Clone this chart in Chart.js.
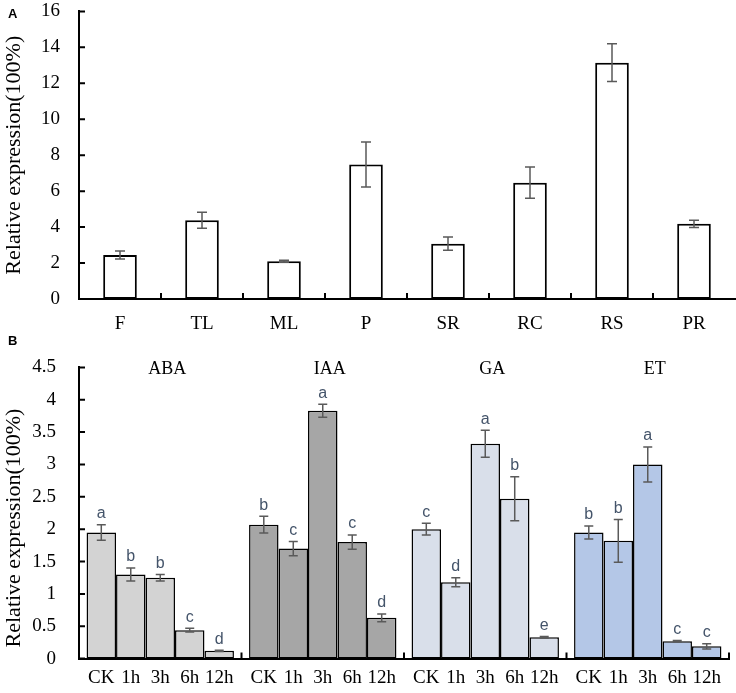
<!DOCTYPE html>
<html>
<head>
<meta charset="utf-8">
<script src="https://cdn.jsdelivr.net/npm/chart.js@4.4.0/dist/chart.umd.min.js"></script>
<style>
  body { margin: 0; background: #fff; }
  #wrap { position: relative; width: 736px; height: 693px; overflow: hidden; }
  canvas { position: absolute; left: 0; }
  #chartA { top: -19px; }
  #chartB { top: 333px; }
  .tag { position: absolute; left: 8px; font: bold 13px "Liberation Sans", Arial, sans-serif; }
</style>
</head>
<body>
<div id="wrap">
  <canvas id="chartA" width="736" height="359"></canvas>
  <canvas id="chartB" width="736" height="360"></canvas>
  <div class="tag" style="top:6px">A</div>
  <div class="tag" style="top:333px">B</div>
</div>
<script>
// panel A - tissues
var tissues = ['F', 'TL', 'ML', 'P', 'SR', 'RC', 'RS', 'PR'];
var tissueMean = [2.45, 4.38, 2.10, 7.48, 3.08, 6.47, 13.15, 4.18];
var tissueErr = [0.22, 0.45, 0.05, 1.25, 0.37, 0.87, 1.05, 0.20];

// panel B - hormone treatments
var hormones = ['ABA', 'IAA', 'GA', 'ET'];
var times = ['CK', '1h', '3h', '6h', '12h'];
var abaMean = [1.95, 1.30, 1.25, 0.44, 0.12];
var iaaMean = [2.07, 1.70, 3.83, 1.80, 0.63];
var gaMean = [2.00, 1.18, 3.32, 2.47, 0.33];
var etMean = [1.95, 1.82, 3.00, 0.27, 0.19];
var abaErr = [0.12, 0.10, 0.05, 0.03, 0.01];
var iaaErr = [0.13, 0.11, 0.10, 0.11, 0.06];
var gaErr = [0.09, 0.07, 0.21, 0.34, 0.01];
var etErr = [0.10, 0.33, 0.27, 0.01, 0.04];
var abaLetters = ['a', 'b', 'b', 'c', 'd'];
var iaaLetters = ['b', 'c', 'a', 'c', 'd'];
var gaLetters = ['c', 'd', 'a', 'b', 'e'];
var etLetters = ['b', 'b', 'a', 'c', 'c'];
var hormoneColors = ['#d3d3d3', '#a6a6a6', '#d9dfea', '#b4c7e7'];

var means = [abaMean, iaaMean, gaMean, etMean];
var errs = [abaErr, iaaErr, gaErr, etErr];
var letters = [abaLetters, iaaLetters, gaLetters, etLetters];

var serif = '"Liberation Serif", "Times New Roman", serif';
var yTitle = 'Relative expression(100%)';

function errorBar(ctx, x, top, bot, half) {
    ctx.beginPath();
    ctx.moveTo(x, top); ctx.lineTo(x, bot);
    ctx.moveTo(x - half, top); ctx.lineTo(x + half, top);
    ctx.moveTo(x - half, bot); ctx.lineTo(x + half, bot);
    ctx.stroke();
}

function inwardTicks(chart, boundaries) {
    var ctx = chart.ctx, xs = chart.scales.x, ys = chart.scales.y;
    ctx.save();
    ctx.strokeStyle = '#000';
    ctx.lineWidth = 2;
    ctx.beginPath();
    ys.ticks.forEach(function(t) {
        var py = ys.getPixelForValue(t.value);
        ctx.moveTo(xs.left, py); ctx.lineTo(xs.left + 6, py);
    });
    var w = (xs.right - xs.left) / chart.data.labels.length;
    for (var i = 1; i <= boundaries; i++) {
        var px = xs.left + w * i;
        ctx.moveTo(px, ys.bottom); ctx.lineTo(px, ys.bottom - 6);
    }
    ctx.stroke();
    ctx.restore();
}

var panelA = {
    id: 'panelA',
    afterDatasetsDraw: function(chart) {
        var ctx = chart.ctx, ys = chart.scales.y;
        ctx.save();
        ctx.strokeStyle = '#5a5a5a';
        ctx.lineWidth = 1.5;
        chart.getDatasetMeta(0).data.forEach(function(bar, i) {
            errorBar(ctx, bar.x, ys.getPixelForValue(tissueMean[i] + tissueErr[i]),
                ys.getPixelForValue(tissueMean[i] - tissueErr[i]), 5);
        });
        ctx.restore();
    },
    afterDraw: function(chart) { inwardTicks(chart, 7); }
};

var panelB = {
    id: 'panelB',
    afterDatasetsDraw: function(chart) {
        var ctx = chart.ctx, ys = chart.scales.y, xs = chart.scales.x;
        ctx.save();
        ctx.textAlign = 'center';
        chart.data.datasets.forEach(function(ds, t) {
            chart.getDatasetMeta(t).data.forEach(function(bar, g) {
                var v = means[g][t], e = errs[g][t];
                var top = ys.getPixelForValue(v + e);
                ctx.strokeStyle = '#5a5a5a';
                ctx.lineWidth = 1.5;
                errorBar(ctx, bar.x, top, ys.getPixelForValue(v - e), 4.5);
                ctx.fillStyle = '#44546a';
                ctx.font = '16px "Liberation Sans", Arial, sans-serif';
                ctx.textBaseline = 'bottom';
                ctx.fillText(letters[g][t], bar.x, top - 3);
                ctx.fillStyle = '#000';
                ctx.font = '19px ' + serif;
                ctx.textBaseline = 'middle';
                ctx.fillText(times[t], bar.x, ys.bottom + 19);
            });
        });
        ctx.fillStyle = '#000';
        ctx.font = '18px ' + serif;
        ctx.textBaseline = 'middle';
        hormones.forEach(function(h, g) {
            ctx.fillText(h, xs.getPixelForValue(g) + 7, ys.top + 2);
        });
        // y title sits a little below the axis centre in the original
        ctx.translate(14, (ys.top + ys.bottom) / 2 + 15);
        ctx.rotate(-Math.PI / 2);
        ctx.font = '22px ' + serif;
        ctx.fillText(yTitle, 0, 0);
        ctx.restore();
    },
    afterDraw: function(chart) { inwardTicks(chart, 4); }
};

function plainNumber(v) { return String(v); }

new Chart(document.getElementById('chartA'), {
    type: 'bar',
    data: {
        labels: tissues,
        datasets: [{
            data: tissueMean,
            backgroundColor: '#ffffff',
            borderColor: '#000000',
            borderWidth: 2,
            borderSkipped: false,
            barPercentage: 0.41,
            categoryPercentage: 1
        }]
    },
    options: {
        responsive: false,
        animation: false,
        devicePixelRatio: 1,
        layout: { padding: { top: 11, right: 1, left: 0, bottom: 0 } },
        plugins: { legend: { display: false }, tooltip: { enabled: false } },
        scales: {
            x: {
                grid: { display: false, drawTicks: false },
                border: { color: '#000', width: 2 },
                ticks: { color: '#000', padding: 14, font: { family: serif, size: 19 } },
                afterFit: function(s) { s.height = 41; }
            },
            y: {
                min: 0,
                max: 16,
                grid: { display: false, drawTicks: false },
                border: { color: '#000', width: 2 },
                ticks: { stepSize: 2, color: '#000', padding: 19, font: { family: serif, size: 19 }, callback: plainNumber },
                title: {
                    display: true,
                    text: yTitle,
                    color: '#000',
                    font: { family: serif, size: 22 },
                    padding: { top: 1, bottom: 0 }
                },
                afterFit: function(s) { s.width = 79; }
            }
        }
    },
    plugins: [panelA]
});

var timeSets = times.map(function(t, i) {
    return {
        label: t,
        data: means.map(function(m) { return m[i]; }),
        backgroundColor: hormoneColors,
        borderColor: '#000000',
        borderWidth: 1.5,
        borderSkipped: false,
        barPercentage: 1,
        categoryPercentage: 0.907
    };
});

new Chart(document.getElementById('chartB'), {
    type: 'bar',
    data: { labels: hormones, datasets: timeSets },
    options: {
        responsive: false,
        animation: false,
        devicePixelRatio: 1,
        layout: { padding: { top: 26, right: 7, left: 0, bottom: 0 } },
        plugins: { legend: { display: false }, tooltip: { enabled: false } },
        scales: {
            x: {
                grid: { display: false, drawTicks: false },
                border: { color: '#000', width: 2 },
                ticks: { display: false },
                afterFit: function(s) { s.height = 30; }
            },
            y: {
                min: 0,
                max: 4.5,
                grid: { display: false, drawTicks: false },
                border: { color: '#000', width: 2 },
                ticks: { stepSize: 0.5, color: '#000', padding: 23, font: { family: serif, size: 19 }, callback: plainNumber },
                afterFit: function(s) { s.width = 79; }
            }
        }
    },
    plugins: [panelB]
});
</script>
</body>
</html>
